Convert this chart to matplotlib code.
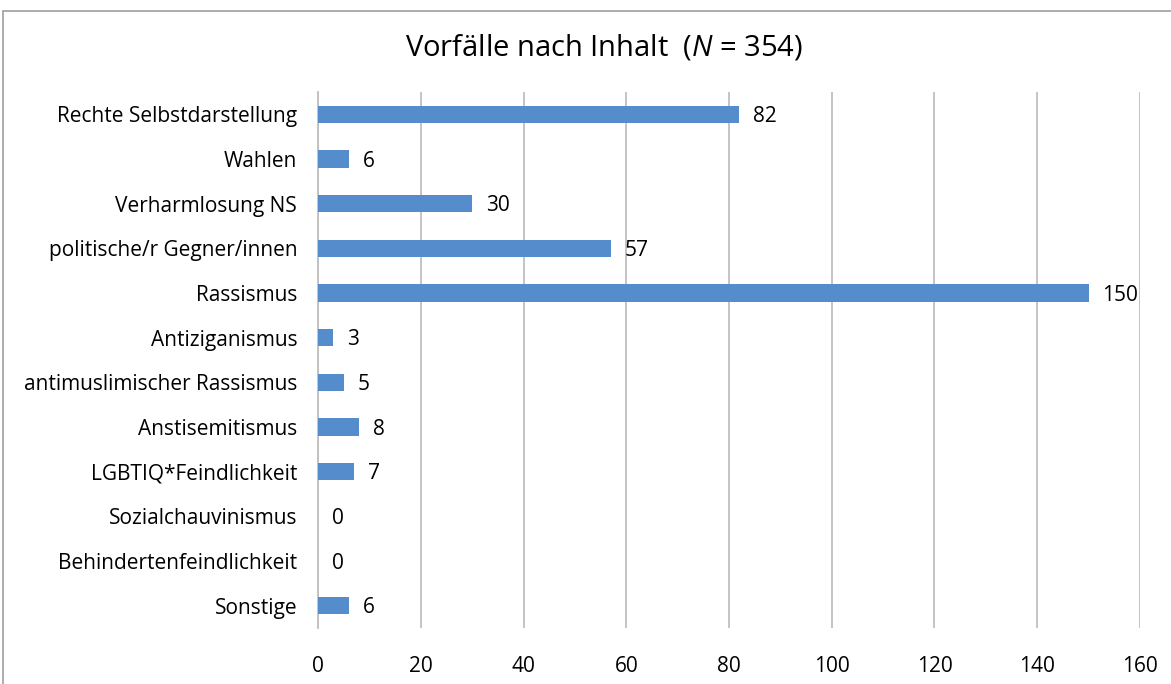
import matplotlib
matplotlib.use("Agg")
import matplotlib.pyplot as plt
from matplotlib.patches import Rectangle

# Daten
categories = [
    "Rechte Selbstdarstellung", "Wahlen", "Verharmlosung NS",
    "politische/r Gegner/innen", "Rassismus", "Antiziganismus",
    "antimuslimischer Rassismus", "Anstisemitismus", "LGBTIQ*Feindlichkeit",
    "Sozialchauvinismus", "Behindertenfeindlichkeit", "Sonstige",
]
values = [82, 6, 30, 57, 150, 3, 5, 8, 7, 0, 0, 6]
x_ticks = [0, 20, 40, 60, 80, 100, 120, 140, 160]

plt.rcParams['font.family'] = ['Open Sans', 'DejaVu Sans']
plt.rcParams['mathtext.fontset'] = 'custom'
plt.rcParams['mathtext.rm'] = 'Open Sans'
plt.rcParams['mathtext.it'] = 'Open Sans:italic'

fig = plt.figure(figsize=(11.71, 6.84), dpi=100)
ax = fig.add_axes([0.2716, 0.0819, 0.7019, 0.7836])

bar_color = '#558CCB'
grid_color = '#BFBFBF'

y = list(range(len(categories)))
ax.barh(y, values, height=0.39, color=bar_color, zorder=3)

for yi, v in zip(y, values):
    ax.annotate(str(v), xy=(v, yi), xytext=(10, -1.5), textcoords='offset points',
                ha='left', va='center', fontsize=15, color='black')

ax.set_xlim(0, 160)
ax.set_ylim(len(categories) - 0.5, -0.5)
ax.set_xticks(x_ticks)
ax.set_yticks(y)
ax.set_yticklabels(categories, fontsize=15)
ax.tick_params(axis='x', labelsize=15, length=0, pad=20)
ax.tick_params(axis='y', length=0, pad=15)

ax.grid(axis='x', color=grid_color, linewidth=1.3, zorder=0)
for side in ['top', 'right', 'bottom']:
    ax.spines[side].set_visible(False)
ax.spines['left'].set_color(grid_color)
ax.spines['left'].set_linewidth(1.3)

fig.text(0.516, 0.931, r"Vorfälle nach Inhalt  ($\mathit{N}$ = 354)",
         ha='center', va='center', fontsize=21)

# Rahmen um das Diagramm
fig.patches.append(Rectangle((0.0026, -0.05), 1.1, 1.034, transform=fig.transFigure,
                             fill=False, edgecolor='#A6A6A6', linewidth=1.3))

fig.savefig("out.png", dpi=100)
